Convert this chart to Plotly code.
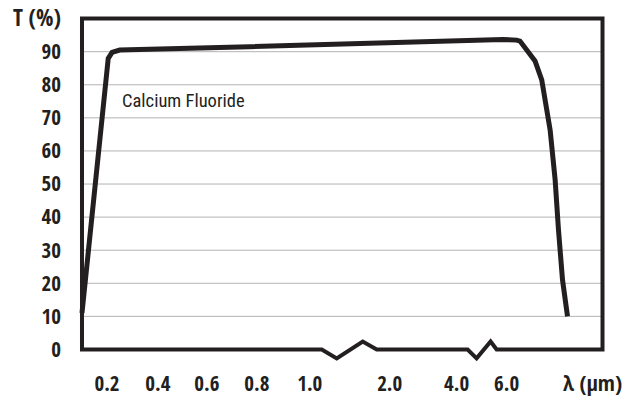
import numpy as np
import plotly.graph_objects as go

# ---- data ----
wavelength_um = [0.10, 0.205, 0.22, 0.25, 0.77, 3.2, 5.85, 6.3, 6.4, 6.85, 7.05, 7.3, 7.45, 7.55, 7.67, 7.82]
transmission_pct = [11, 88, 89.8, 90.5, 91.5, 93.2, 93.7, 93.5, 93.2, 87.2, 81.5, 66.4, 51.3, 36.2, 21.1, 10]
x_tick_labels = [0.2, 0.4, 0.6, 0.8, 1.0, 2.0, 4.0, 6.0]
y_tick_values = [0, 10, 20, 30, 40, 50, 60, 70, 80, 90]
series_label = "Calcium Fluoride"

# ---- broken-axis scale (wavelength -> axis position) ----
scale_wl = [0.1, 0.2, 0.4, 0.6, 0.8, 1.0, 2.0, 4.0, 6.0, 9.0]
scale_pos = [0.1, 0.2, 0.404, 0.6, 0.8, 1.012, 1.332, 1.6, 1.8, 2.202]


def to_axis(w):
    return np.interp(w, scale_wl, scale_pos)


x_left, x_right = 0.1, 2.184
y_top = 100
# zigzag break marks on the bottom axis (axis-position units)
breaks = [(1.06, 1.12, 1.224, 1.28), (1.644, 1.68, 1.736, 1.76)]

TICK_FONT = "Open Sans Condensed, Roboto Condensed, DejaVu Sans Condensed, sans-serif"
LABEL_FONT = "Roboto Condensed, DejaVu Sans Condensed, sans-serif"
INK = "#231f20"

fig = go.Figure()
fig.add_trace(go.Scatter(
    x=to_axis(wavelength_um), y=transmission_pct, mode="lines",
    line=dict(color=INK, width=5), showlegend=False, hoverinfo="skip"))

# frame path with broken bottom axis
pts = [(x_left, 0), (x_left, y_top), (x_right, y_top), (x_right, 0)]
for a, b, c, d in reversed(breaks):
    pts += [(d, 0), (c, 2.4), (b, -2.7), (a, 0)]
pts += [(x_left, 0)]
path = "M " + " L ".join(f"{px},{py}" for px, py in pts) + " Z"

shapes = [dict(type="line", xref="x", yref="y", x0=x_left, x1=x_right, y0=v, y1=v,
               line=dict(color="#b3b3b3", width=1), layer="below") for v in y_tick_values[1:]]
shapes.append(dict(type="path", xref="x", yref="y", path=path,
                   line=dict(color=INK, width=4), layer="above"))

big = '<span style="font-size:23px">{}</span>'
x_tickvals = list(to_axis(x_tick_labels)) + [2.144]
x_ticktext = [f"{v:.1f}" for v in x_tick_labels] + ['<span style="font-size:22px">λ (μm)</span>']
y_tickvals = y_tick_values + [100]
y_ticktext = [str(v) for v in y_tick_values] + [big.format("T (%)")]

fig.update_layout(
    width=630, height=404,
    margin=dict(l=74, r=21, t=12, b=38),
    paper_bgcolor="white", plot_bgcolor="white",
    shapes=shapes,
    xaxis=dict(range=[0.068, 2.21], showgrid=False, zeroline=False, showline=False,
               automargin=False, ticklabeloverflow="allow",
               tickvals=x_tickvals, ticktext=x_ticktext, ticks="",
               tickfont=dict(family=TICK_FONT, size=21, color=INK, weight="bold"),
               ticklabelstandoff=3),
    yaxis=dict(range=[-5, 102], showgrid=False, zeroline=False, showline=False,
               automargin=False, ticklabeloverflow="allow",
               tickvals=y_tickvals, ticktext=y_ticktext, ticks="",
               tickfont=dict(family=TICK_FONT, size=21, color=INK, weight="bold"),
               ticklabelstandoff=12),
    annotations=[dict(text=series_label, x=to_axis(0.25), y=75, xref="x", yref="y",
                      xanchor="left", yanchor="middle", showarrow=False,
                      font=dict(family=LABEL_FONT, size=18.5, color=INK))],
)

fig.write_html("out.html", config={"displayModeBar": False},
               post_script="document.body.style.margin='0';")
